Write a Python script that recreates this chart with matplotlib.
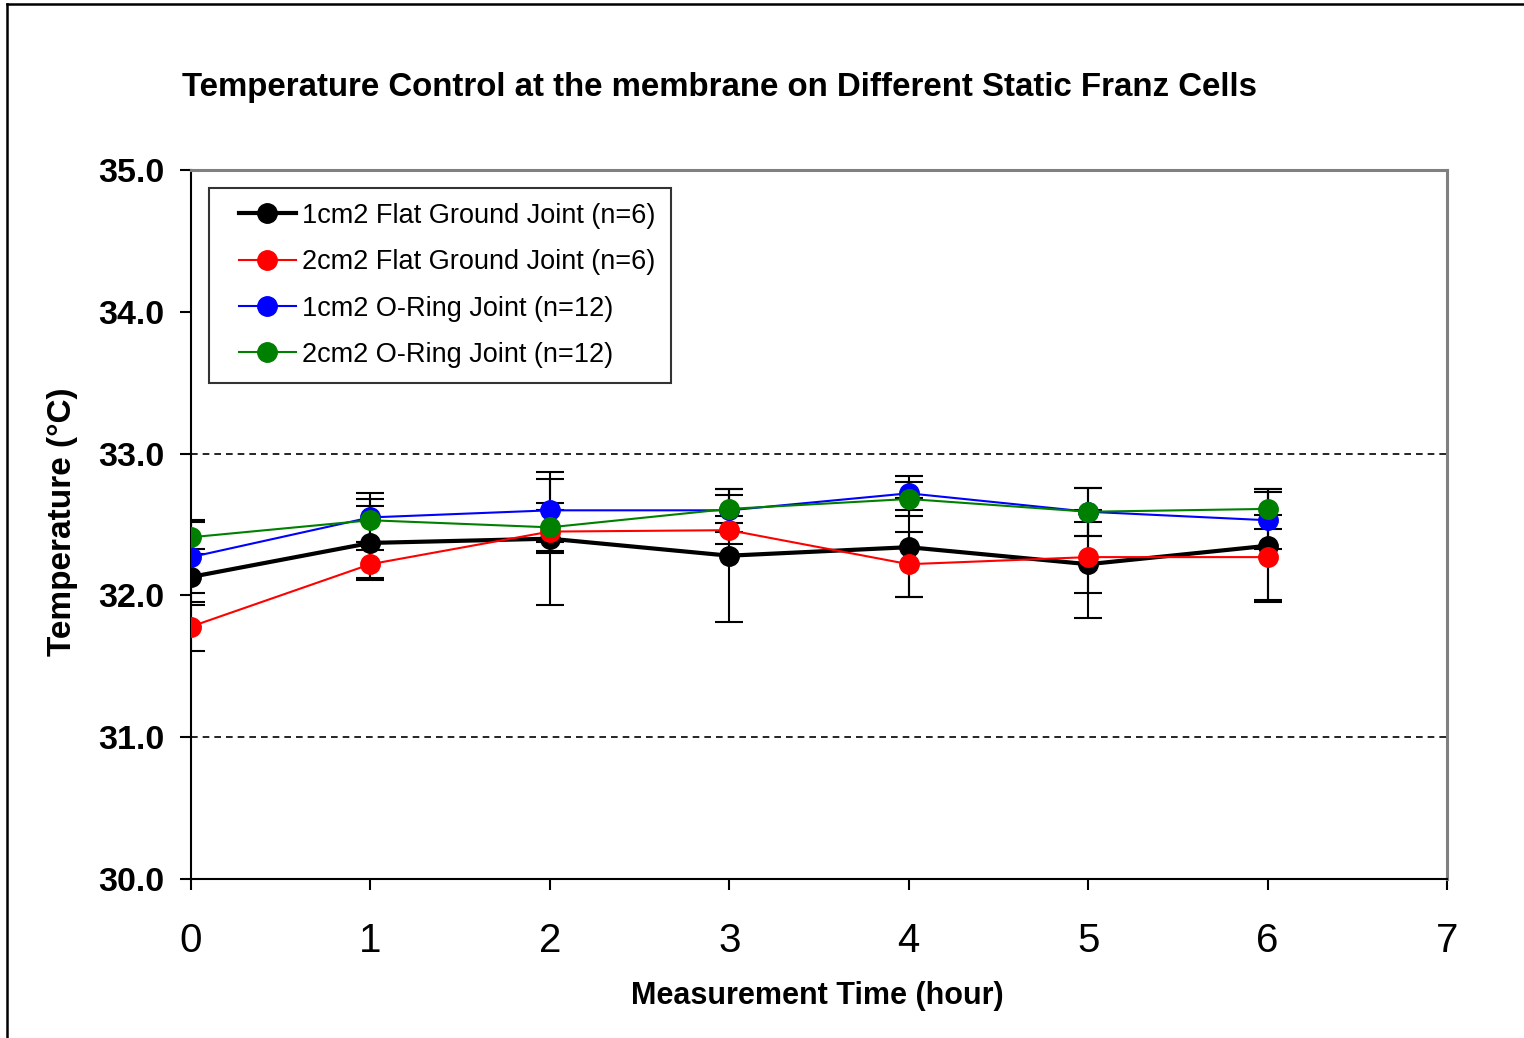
import matplotlib
matplotlib.use("Agg")
import matplotlib.pyplot as plt
from matplotlib.lines import Line2D
from matplotlib.legend_handler import HandlerLine2D

plt.rcParams['font.family'] = ['Liberation Sans', 'DejaVu Sans']

# Measurement times (hour)
hours = [0, 1, 2, 3, 4, 5, 6]

# Mean temperatures (°C) per cell type
flat_1cm2 = [32.13, 32.37, 32.40, 32.28, 32.34, 32.22, 32.35]
flat_2cm2 = [31.78, 32.22, 32.45, 32.46, 32.22, 32.27, 32.27]
oring_1cm2 = [32.27, 32.55, 32.60, 32.60, 32.72, 32.59, 32.53]
oring_2cm2 = [32.41, 32.53, 32.48, 32.61, 32.68, 32.59, 32.61]

# Standard deviations (estimated from the error bars)
flat_1cm2_sd = [0.20, 0.26, 0.47, 0.47, 0.35, 0.38, 0.40]
flat_2cm2_sd = [0.17, 0.10, 0.15, 0.10, 0.23, 0.25, 0.30]
oring_1cm2_sd = [0.25, 0.17, 0.22, 0.15, 0.12, 0.17, 0.20]
oring_2cm2_sd = [0.12, 0.15, 0.17, 0.10, 0.12, 0.17, 0.14]

labels = ["1cm2 Flat Ground Joint (n=6)", "2cm2 Flat Ground Joint (n=6)",
          "1cm2 O-Ring Joint (n=12)", "2cm2 O-Ring Joint (n=12)"]
colors = ["black", "#ff0000", "#0000ff", "#008000"]
widths = [3.0, 1.5, 1.5, 1.5]

fig = plt.figure(figsize=(15.24, 10.38), dpi=100)
ax = fig.add_axes([0.1253, 0.1532, 0.8242, 0.6830])

# outer frame (left and top edges visible)
fig.add_artist(Line2D([0.0046, 0.0046], [0.0, 0.9962], transform=fig.transFigure,
                      color="black", lw=1.8))
fig.add_artist(Line2D([0.0046, 1.0], [0.9962, 0.9962], transform=fig.transFigure,
                      color="black", lw=1.8))

series = [(flat_1cm2, flat_1cm2_sd), (flat_2cm2, flat_2cm2_sd),
          (oring_1cm2, oring_1cm2_sd), (oring_2cm2, oring_2cm2_sd)]

# reference lines at 31 and 33 °C
for ref in [31, 33]:
    ax.axhline(ref, color="black", lw=1.2, ls=(0, (4, 3)), zorder=1)

# error bars first so markers sit on top
for (vals, sd) in series:
    ax.errorbar(hours, vals, yerr=sd, fmt="none", ecolor="black",
                elinewidth=1.5, capsize=10, capthick=1.5, zorder=2)

for i, (vals, sd) in enumerate(series):
    ax.plot(hours, vals, color=colors[i], lw=widths[i], marker="o",
            markersize=14, markeredgecolor=colors[i], label=labels[i],
            zorder=3 + i)

ax.set_xlim(0, 7)
ax.set_ylim(30, 35)
ax.set_xticks(range(0, 8))
ax.set_yticks([30, 31, 32, 33, 34, 35])
ax.set_yticklabels(["30.0", "31.0", "32.0", "33.0", "34.0", "35.0"],
                   fontsize=24.5, fontweight="bold")
ax.set_xticklabels([str(h) for h in range(0, 8)], fontsize=29)
ax.tick_params(axis="y", direction="out", length=8, width=1.5, pad=11)
ax.tick_params(axis="x", direction="out", length=8, width=1.5, pad=23)

for side in ["left", "bottom"]:
    ax.spines[side].set_color("black")
    ax.spines[side].set_linewidth(1.5)
for side in ["top", "right"]:
    ax.spines[side].set_color("#808080")
    ax.spines[side].set_linewidth(2.2)

# xpad pushes the sample line right inside the legend box
leg = ax.legend(loc="upper left", bbox_to_anchor=(0.0143, 0.9746),
                borderaxespad=0, fontsize=19.5, frameon=True, fancybox=False,
                handlelength=2.65, handletextpad=0.25, labelspacing=0.75,
                borderpad=0.55,
                handler_map={Line2D: HandlerLine2D(xpad=0.55)})
leg.get_frame().set_edgecolor("black")
leg.get_frame().set_linewidth(1.5)

fig.text(0.4724, 0.916, "Temperature Control at the membrane on Different Static Franz Cells",
         ha="center", va="center", fontsize=23.8, fontweight="bold")
fig.text(0.536, 0.0405, "Measurement Time (hour)", ha="center", va="center",
         fontsize=22, fontweight="bold")
fig.text(0.0407, 0.497, "Temperature (\u00b0C)", ha="center", va="center",
         rotation=90, fontsize=24, fontweight="bold")

fig.savefig("out.png", dpi=100)
